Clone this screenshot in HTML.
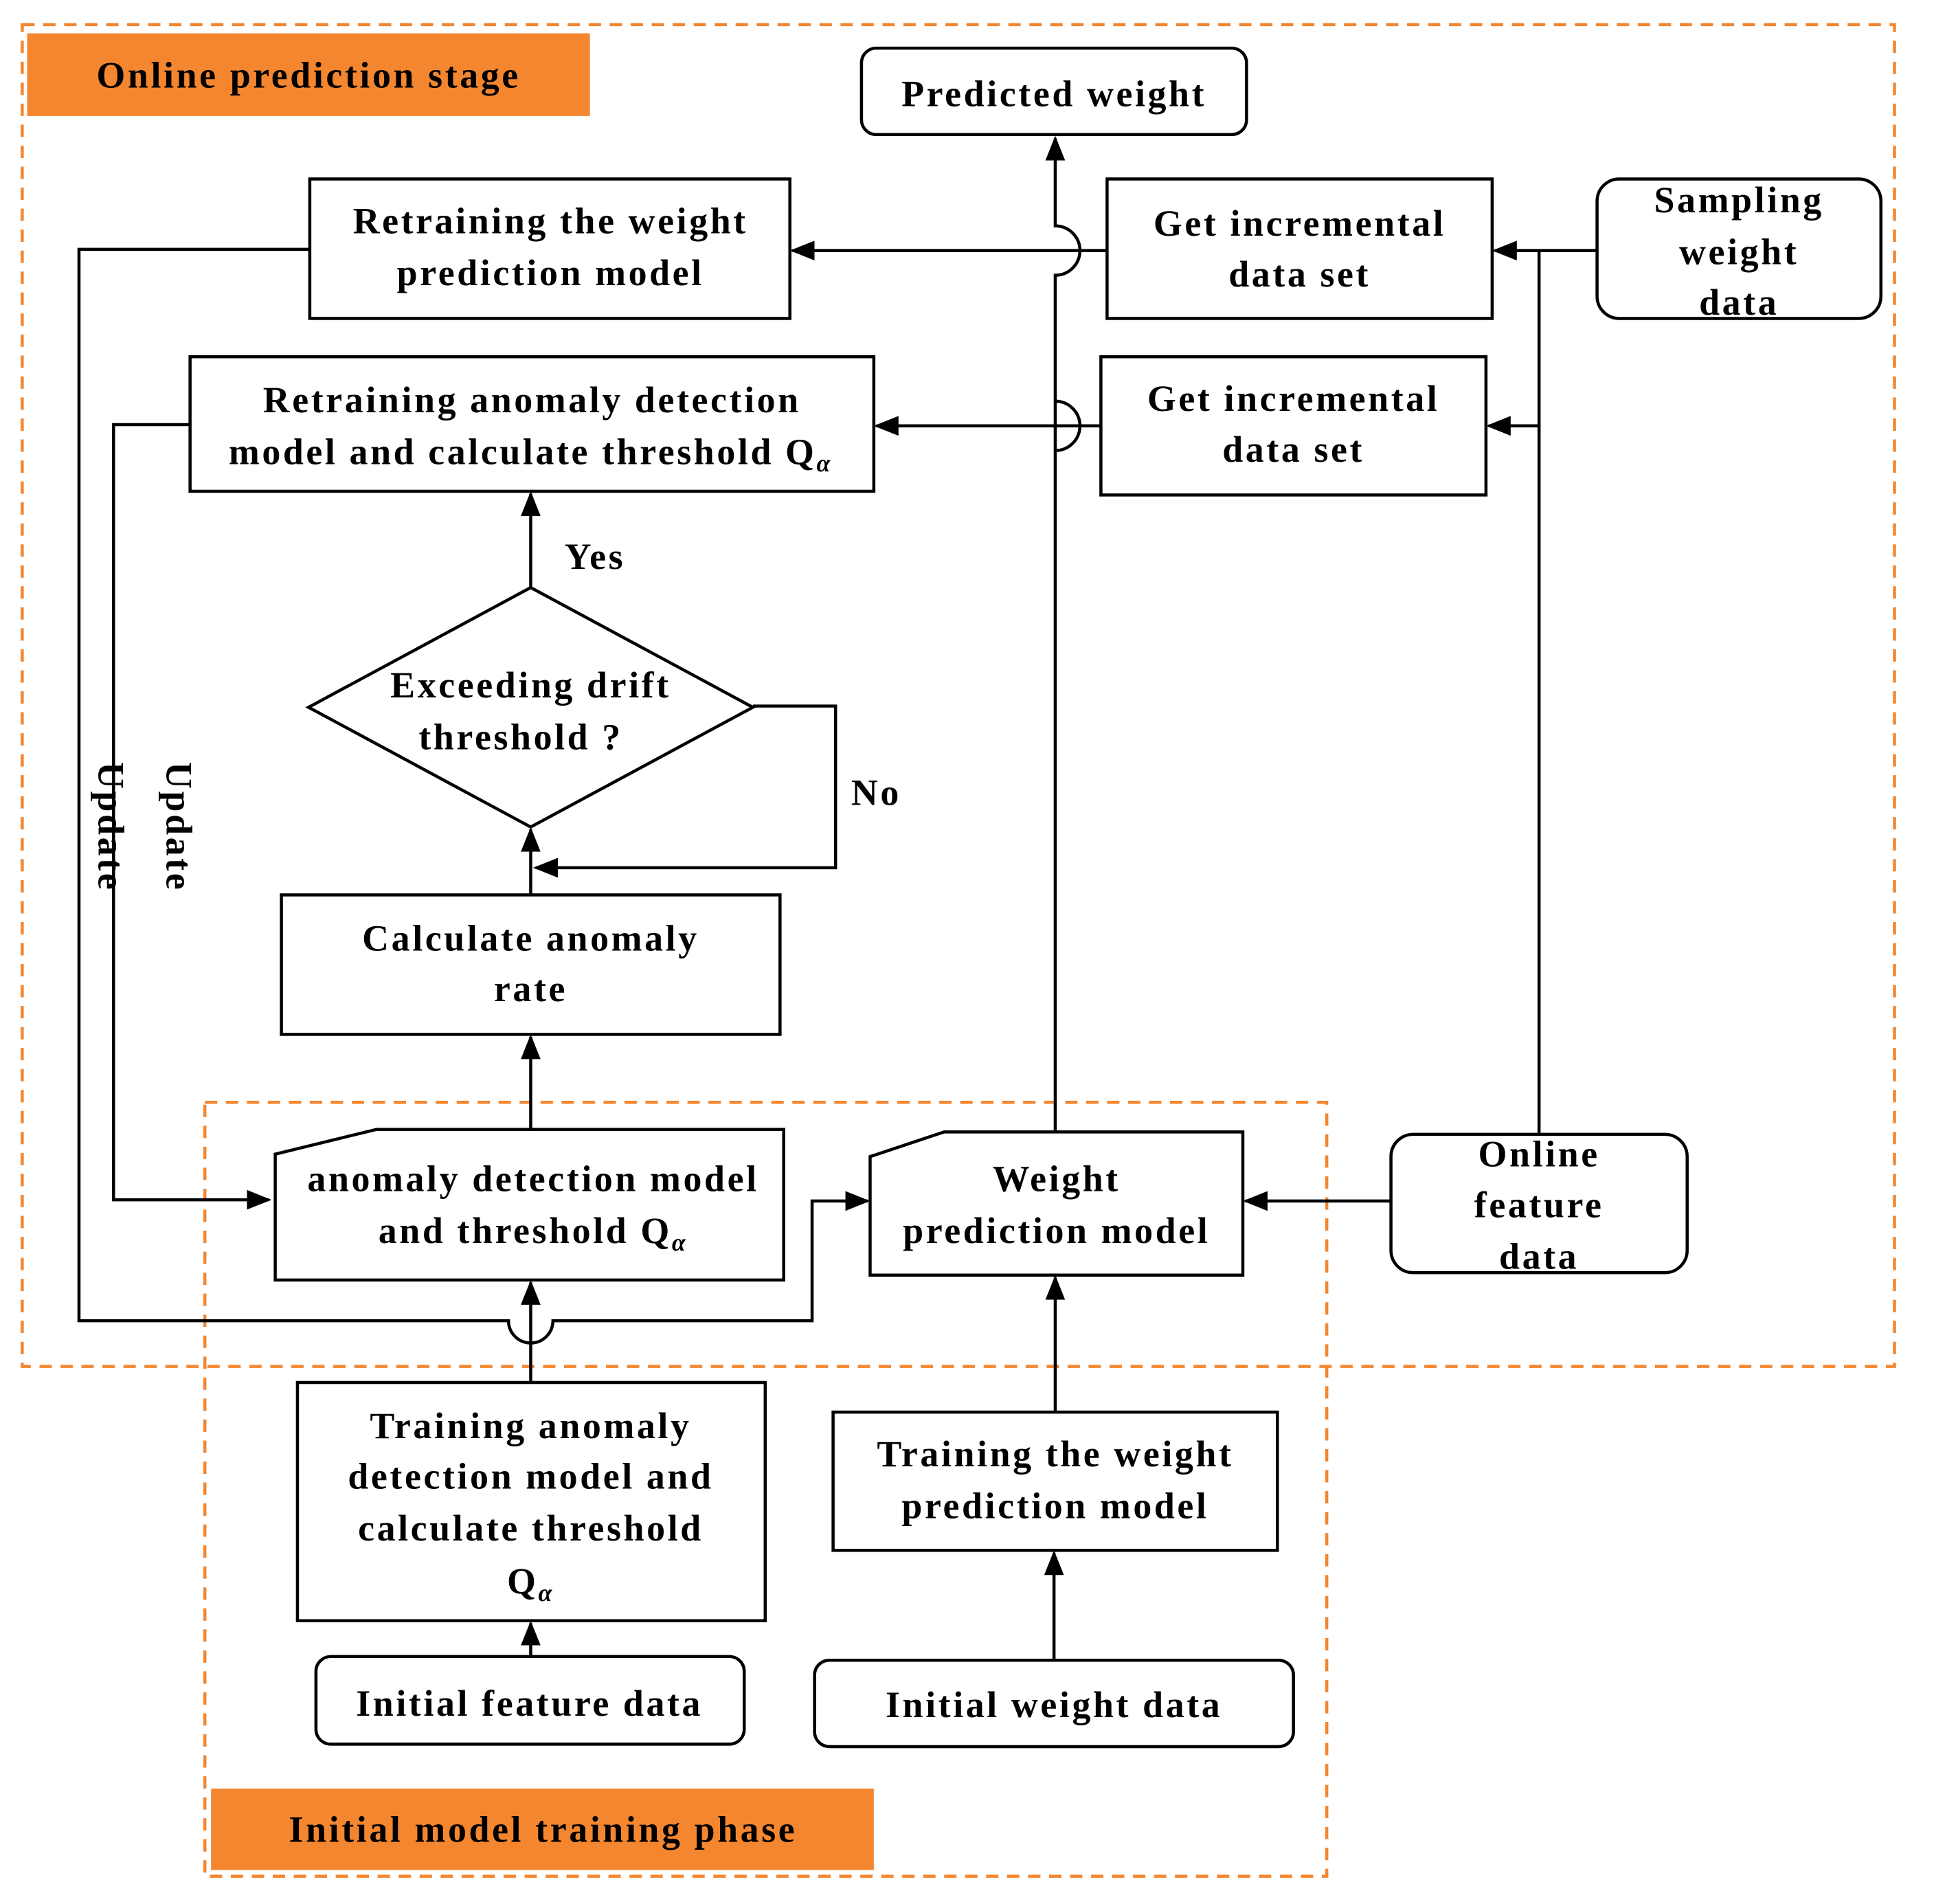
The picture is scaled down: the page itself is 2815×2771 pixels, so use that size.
<!DOCTYPE html>
<html><head><meta charset="utf-8"><style>html,body{margin:0;padding:0;background:#fff}svg{display:block}</style></head>
<body>
<svg width="2815" height="2771" viewBox="0 0 1567 1542.5" preserveAspectRatio="none" xmlns="http://www.w3.org/2000/svg" font-family="'Liberation Serif', serif" font-weight="bold" font-size="30">
<defs><marker id="m" markerWidth="20" markerHeight="16" refX="18" refY="8" orient="auto" markerUnits="userSpaceOnUse"><path d="M0,0 L20,8 L0,16 z"/></marker></defs>
<style>.b{fill:#fff;stroke:#000;stroke-width:2.5}.l{fill:none;stroke:#000;stroke-width:2.5}text{text-anchor:middle;letter-spacing:2px}.s{font-size:20px;font-style:italic}</style>
<rect x="18" y="20" width="1517" height="1087" fill="none" stroke="#F4862F" stroke-width="2.5" stroke-dasharray="10,7"/>
<rect x="166" y="893" width="909" height="627" fill="none" stroke="#F4862F" stroke-width="2.5" stroke-dasharray="10,7"/>
<rect x="22" y="27" width="456" height="67" fill="#F4862F"/>
<text x="250" y="71">Online prediction stage</text>
<rect x="171" y="1449" width="537" height="66" fill="#F4862F"/>
<text x="440" y="1492">Initial model training phase</text>

<path d="M855,917 V223 A20,20 0 0 0 855,183 V112" class="l" marker-end="url(#m)"/>
<path d="M855,365 A20,20 0 0 0 855,325" class="l"/>
<path d="M897,203 H642" class="l" marker-end="url(#m)"/>
<path d="M892,345 H710" class="l" marker-end="url(#m)"/>
<path d="M1294,203 H1211" class="l" marker-end="url(#m)"/>
<path d="M1247,919 V203" class="l"/>
<path d="M1247,345 H1206" class="l" marker-end="url(#m)"/>
<path d="M251,202 H64 V1070 H412 A18,18 0 0 0 448,1070 H658 V973 H703" class="l" marker-end="url(#m)"/>
<path d="M154,344 H92 V972 H218" class="l" marker-end="url(#m)"/>
<path d="M430,915 V840" class="l" marker-end="url(#m)"/>
<path d="M430,725 V672" class="l" marker-end="url(#m)"/>
<path d="M610,572 H677 V703 H434" class="l" marker-end="url(#m)"/>
<path d="M430,476 V400" class="l" marker-end="url(#m)"/>
<path d="M430,1120 V1039" class="l" marker-end="url(#m)"/>
<path d="M430,1342 V1315" class="l" marker-end="url(#m)"/>
<path d="M855,1144 V1035" class="l" marker-end="url(#m)"/>
<path d="M854,1345 V1258" class="l" marker-end="url(#m)"/>
<path d="M1127,973 H1009" class="l" marker-end="url(#m)"/>

<rect class="b" x="698" y="39" width="312" height="70" rx="12"/>
<text x="854" y="86">Predicted weight</text>
<rect class="b" x="251" y="145" width="389" height="113"/>
<text x="446" y="189">Retraining the weight</text><text x="446" y="231">prediction  model</text>
<rect class="b" x="897" y="145" width="312" height="113"/>
<text x="1053" y="191">Get incremental</text><text x="1053" y="232">data set</text>
<rect class="b" x="1294" y="145" width="230" height="113" rx="18"/>
<text x="1409" y="172">Sampling</text><text x="1409" y="214">weight</text><text x="1409" y="255">data</text>
<rect class="b" x="154" y="289" width="554" height="109"/>
<text x="431" y="334">Retraining anomaly detection</text><text x="430" y="376">model and calculate threshold Q<tspan class="s" dy="6">α</tspan></text>
<rect class="b" x="892" y="289" width="312" height="112"/>
<text x="1048" y="333">Get incremental</text><text x="1048" y="374">data set</text>
<polygon class="b" points="430,476 610,573 430,670 250,573"/>
<text x="430" y="565">Exceeding drift</text><text x="422" y="607">threshold ?</text>
<text x="482" y="461">Yes</text><text x="710" y="652">No</text>
<text transform="translate(80,670) rotate(90)">Update</text>
<text transform="translate(135,670) rotate(90)">Update</text>
<rect class="b" x="228" y="725" width="404" height="113"/>
<text x="430" y="770">Calculate  anomaly</text><text x="430" y="811">rate</text>
<polygon class="b" points="223,935 305,915 635,915 635,1037 223,1037"/>
<text x="432" y="965">anomaly detection model</text><text x="432" y="1007">and threshold  Q<tspan class="s" dy="6">α</tspan></text>
<polygon class="b" points="705,937 765,917 1007,917 1007,1033 705,1033"/>
<text x="856" y="965">Weight</text><text x="856" y="1007">prediction  model</text>
<rect class="b" x="1127" y="919" width="240" height="112" rx="18"/>
<text x="1247" y="945">Online</text><text x="1247" y="986">feature</text><text x="1247" y="1028">data</text>
<rect class="b" x="241" y="1120" width="379" height="193"/>
<text x="430" y="1165">Training  anomaly</text><text x="430" y="1206">detection model and</text><text x="430" y="1248">calculate threshold</text><text x="430" y="1291">Q<tspan class="s" dy="6">α</tspan></text>
<rect class="b" x="675" y="1144" width="360" height="112"/>
<text x="855" y="1188">Training  the weight</text><text x="855" y="1230">prediction  model</text>
<rect class="b" x="256" y="1342" width="347" height="71" rx="12"/>
<text x="429" y="1390">Initial  feature data</text>
<rect class="b" x="660" y="1345" width="388" height="70" rx="12"/>
<text x="854" y="1391">Initial  weight data</text>
</svg>
</body></html>
